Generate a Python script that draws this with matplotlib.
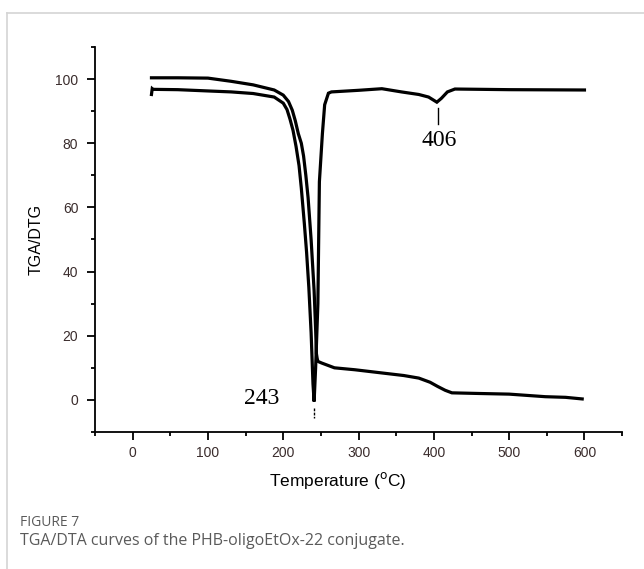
import matplotlib
matplotlib.use('Agg')
from matplotlib import pyplot as plt
from matplotlib.lines import Line2D
from matplotlib.ticker import MultipleLocator

# TGA curve (mass %, upper start at ~100)
tga_t = [25, 60, 100, 131, 160, 188, 200, 207, 212, 216, 220, 224, 227, 230,
         233, 237, 241, 243, 244, 245, 246, 251, 268, 295, 331, 360, 380, 395,
         405, 415, 424, 460, 500, 548, 575, 597]
tga_v = [100.4, 100.4, 100.3, 99.3, 98.2, 96.6, 95.0, 93.0, 90.3, 87.0, 83.0,
         80.0, 76.0, 70.0, 63.0, 50.0, 34.0, 22.0, 14.5, 13.0, 12.0, 11.5,
         10.0, 9.4, 8.4, 7.6, 6.8, 5.5, 4.2, 3.0, 2.2, 2.0, 1.8, 1.0, 0.8, 0.3]

# DTG curve (scaled, baseline ~96)
dtg_t = [25, 26, 27, 60, 100, 131, 160, 188, 200, 205, 209, 213, 217, 221,
         224, 228, 231, 234, 237, 239.5, 241, 243, 246, 248, 252, 255, 260,
         264, 300, 331, 357, 380, 393, 404, 410, 418, 428, 500, 600]
dtg_v = [95.2, 97.0, 96.8, 96.7, 96.3, 96.0, 95.5, 94.4, 92.5, 90.5, 87.5,
         84.0, 79.0, 73.0, 66.0, 55.0, 46.0, 35.0, 21.0, 5.0, -0.5, 10.0, 30.0,
         68.0, 83.0, 92.0, 95.6, 96.0, 96.5, 97.0, 96.0, 95.2, 94.4, 92.8,
         94.0, 96.0, 96.9, 96.7, 96.6]

peak_labels = ['243', '406']
peak_t = [241, 405]

fig = plt.figure(figsize=(6.44, 5.69), dpi=100)
ax = fig.add_axes([0.1475, 0.2408, 0.8185, 0.6766])

ax.plot(tga_t, tga_v, color='black', lw=2.3, solid_joinstyle='miter')
ax.plot(dtg_t, dtg_v, color='black', lw=2.3, solid_joinstyle='miter')

ax.set_xlim(-50, 650)
ax.set_ylim(-10, 110)
for s in ['top', 'right']:
    ax.spines[s].set_visible(False)
for s in ['left', 'bottom']:
    ax.spines[s].set_linewidth(1.3)

ax.xaxis.set_minor_locator(MultipleLocator(50))
ax.yaxis.set_minor_locator(MultipleLocator(10))
ax.set_xticks([0, 100, 200, 300, 400, 500, 600])
ax.set_yticks([0, 20, 40, 60, 80, 100])
ax.tick_params(which='major', length=6, width=1.3, labelsize=10,
               labelcolor='#3a2c2c')
ax.tick_params(axis='x', pad=4)
ax.tick_params(axis='y', pad=6)
ax.tick_params(which='minor', length=3, width=1.3)
for lab in ax.get_xticklabels() + ax.get_yticklabels():
    lab.set_family('Liberation Sans')

ax.set_ylabel('TGA/DTG', fontsize=11.5, family='Liberation Sans', labelpad=8)
ax.set_xlabel('Temperature ($^{\\rm o}$C)', fontsize=12.5,
              family='Liberation Sans')
ax.xaxis.set_label_coords(0.46, -0.1)

# peak markers
ax.plot([peak_t[0], peak_t[0]], [-2.5, -5.5], color='black', lw=1, ls=(0, (2, 1)))
ax.plot([peak_t[1], peak_t[1]], [91.0, 86.0], color='black', lw=1)
ax.text(172, 0.3, peak_labels[0], fontsize=17, family='Liberation Serif',
        ha='center', va='center')
ax.text(407, 81, peak_labels[1], fontsize=17, family='Liberation Serif',
        ha='center', va='center')

# frame of the figure panel
fig.add_artist(Line2D([7 / 644, 1], [1 - 13 / 569, 1 - 13 / 569],
                      color='#d4d4d4', lw=1.2, transform=fig.transFigure))
fig.add_artist(Line2D([7 / 644, 7 / 644], [0, 1 - 13 / 569],
                      color='#d4d4d4', lw=1.2, transform=fig.transFigure))

fig.text(20 / 644, 1 - 522 / 569, 'FIGURE 7', fontsize=10, family='Open Sans',
         color='#5a5a5a', va='center')
fig.text(20 / 644, 1 - 541 / 569,
         'TGA/DTA curves of the PHB-oligoEtOx-22 conjugate.', fontsize=11.5,
         family='Open Sans', color='#5a5a5a', va='center')

fig.savefig('out.png', dpi=100)
